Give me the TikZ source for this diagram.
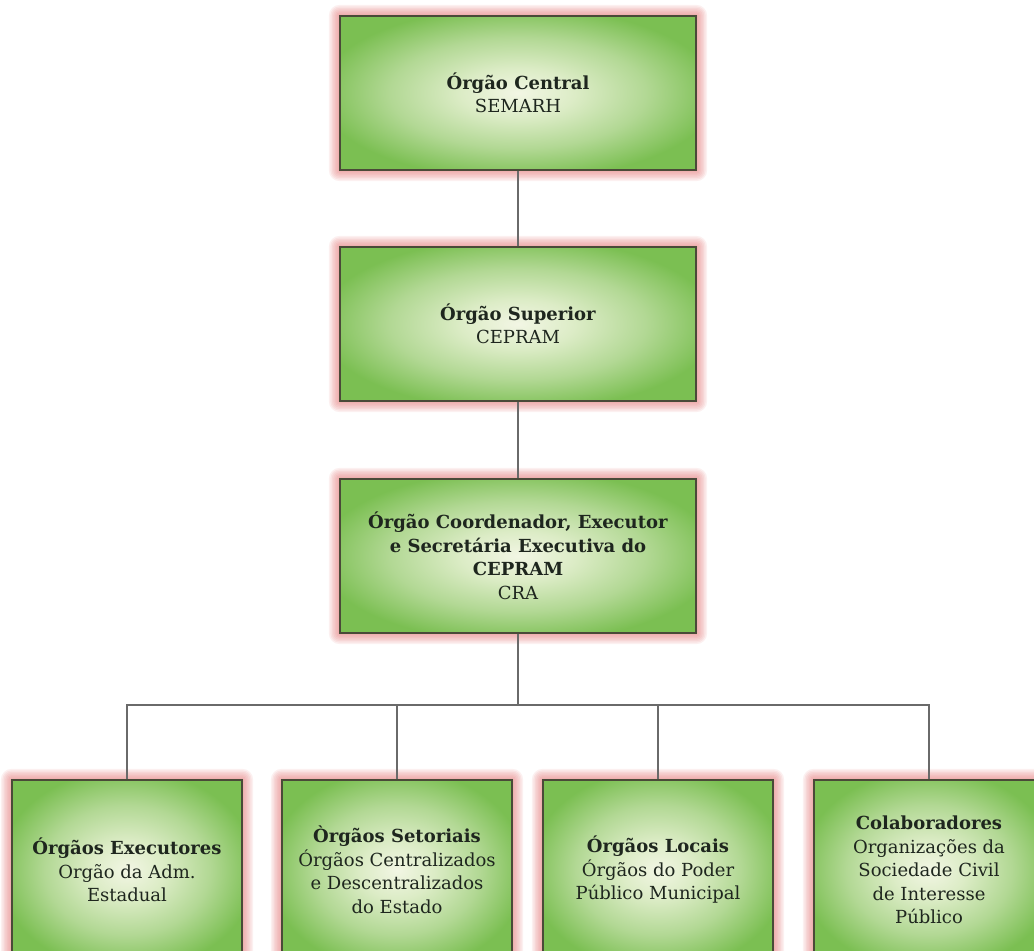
\documentclass[tikz,border=0pt]{standalone}
\usepackage{fontspec}
\setmainfont{DejaVu Serif}
\usetikzlibrary{backgrounds}
\definecolor{cin}{HTML}{F2F6E4}
\definecolor{cinmid}{HTML}{DCECC6}
\definecolor{cmid}{HTML}{B2D894}
\definecolor{cout}{HTML}{7BBF52}
\definecolor{edgec}{HTML}{4A4A38}
\definecolor{linec}{HTML}{6A6A6A}
\definecolor{glowc}{HTML}{E06A6A}
\definecolor{txtc}{HTML}{1E261E}
\pgfdeclareradialshading{boxshade}{\pgfpoint{0bp}{0bp}}{color(0bp)=(cin); color(8bp)=(cinmid); color(18bp)=(cmid); color(28bp)=(cout); color(50bp)=(cout)}
\tikzset{
  orgbox/.style={draw=edgec, line width=1.2bp, shade, shading=boxshade, align=center,
    text=txtc, font=\fontsize{18bp}{23.5bp}\selectfont, inner sep=0pt},
  topbox/.style={orgbox, minimum width=356bp, minimum height=154bp},
  botbox/.style={orgbox, minimum width=230bp, minimum height=180bp},
  conn/.style={draw=linec, line width=1.5bp},
  glowrect/.style={fill=glowc, opacity=0.1},
}
\begin{document}
\begin{tikzpicture}[x=1bp, y=-1bp]
\useasboundingbox (0,0) rectangle (1034,951);
\node[topbox] (b1) at (518,93) {\textbf{Órgão Central}\\SEMARH};
\node[topbox] (b2) at (518,324) {\textbf{Órgão Superior}\\CEPRAM};
\node[topbox] (b3) at (518,556) {\textbf{Órgão Coordenador, Executor}\\\textbf{e Secretária Executiva do}\\\textbf{CEPRAM}\\CRA};
\node[botbox] (ba) at (127,870) {\textbf{Órgãos Executores}\\Orgão da Adm.\\Estadual};
\node[botbox] (bb) at (397,870) {\textbf{Òrgãos Setoriais}\\Órgãos Centralizados\\e Descentralizados\\do Estado};
\node[botbox] (bc) at (658,870) {\textbf{Órgãos Locais}\\Órgãos do Poder\\Público Municipal};
\node[botbox] (bd) at (929,870) {\textbf{Colaboradores}\\Organizações da\\Sociedade Civil\\de Interesse\\Público};
\begin{scope}[on background layer]
  \foreach \n in {b1,b2,b3,ba,bb,bc,bd}{
    \foreach \d in {1.5bp,3bp,4.5bp,6bp,7.5bp,9bp,10.5bp}{
      \fill[glowrect, rounded corners=\d] ([xshift=-\d, yshift=-\d]\n.south west) rectangle ([xshift=\d, yshift=\d]\n.north east);
    }
  }
\end{scope}
\coordinate (bus) at (518,705);
\draw[conn] (b1.south) -- (b2.north);
\draw[conn] (b2.south) -- (b3.north);
\draw[conn] (b3.south) -- (bus);
\draw[conn] (ba.north) -- (ba.north |- bus) -- (bd.north |- bus) -- (bd.north);
\draw[conn] (bb.north) -- (bb.north |- bus);
\draw[conn] (bc.north) -- (bc.north |- bus);
\end{tikzpicture}
\end{document}
